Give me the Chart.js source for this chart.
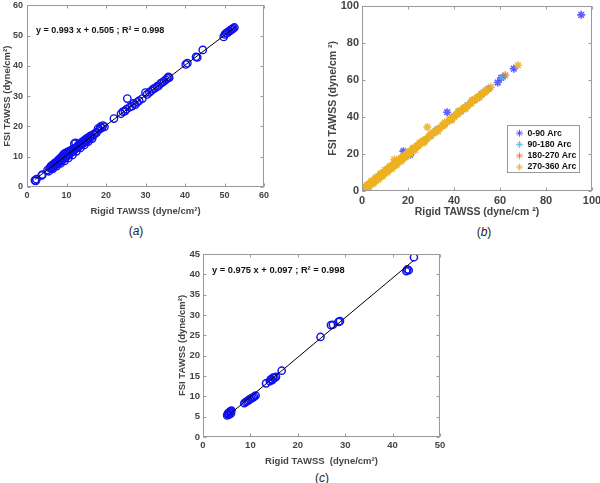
<!DOCTYPE html>
<html><head><meta charset="utf-8">
<script src="https://cdn.jsdelivr.net/npm/chart.js@4.4.0/dist/chart.umd.min.js"></script>
<style>
html,body{margin:0;padding:0;background:#fff;width:600px;height:483px;overflow:hidden;position:relative;}
canvas{position:absolute;}
.cap{position:absolute;font-family:"Liberation Sans",Arial,sans-serif;font-size:12px;color:#222;transform:translateX(-50%);line-height:12px;white-space:nowrap;}
</style></head><body>
<canvas id="ca" width="300" height="222" style="left:0;top:0"></canvas>
<canvas id="cb" width="300" height="222" style="left:300px;top:0"></canvas>
<canvas id="cc" width="320" height="230" style="left:140px;top:240px"></canvas>
<div class="cap" style="left:136px;top:225px">(<i>a</i>)</div>
<div class="cap" style="left:484px;top:226px">(<i>b</i>)</div>
<div class="cap" style="left:322px;top:472px">(<i>c</i>)</div>
<script>
// ---------- DATA ----------
// Panel (a): [Rigid TAWSS, FSI TAWSS]
const panelA = [[2.0,2.2],[2.2,2.0],[2.4,2.6],[3.7,3.8],[3.9,4.1],[5.2,5.6],[5.5,5.2],[5.8,6.2],[6.0,6.8],[6.2,6.3],
[6.4,7.2],[6.6,6.7],[6.8,7.6],[7.0,7.2],[7.1,8.0],[7.3,7.4],[7.5,8.3],[7.6,7.6],[7.8,8.7],[8.0,8.1],
[8.1,9.1],[8.3,8.2],[8.4,9.5],[8.6,8.6],[8.8,9.9],[8.9,9.0],[9.0,10.3],[9.1,9.4],[9.2,10.6],[9.3,9.2],
[9.4,10.9],[9.5,9.8],[9.6,11.0],[9.7,10.0],[9.8,11.2],[9.9,10.2],[10.0,11.3],[10.1,10.4],[10.2,11.5],[10.3,10.3],
[10.4,11.6],[10.5,10.7],[10.7,11.8],[10.8,11.0],[11.0,12.0],[11.1,11.3],[11.3,12.2],[11.5,11.7],[11.6,12.5],[11.8,12.0],
[12.0,14.3],[12.1,12.4],[12.3,14.6],[12.4,13.0],[12.6,13.0],[12.8,13.5],[13.0,13.2],[13.1,14.0],[13.3,13.6],[13.5,14.3],
[13.7,14.0],[13.9,14.8],[14.0,14.3],[14.2,15.1],[14.4,14.6],[14.6,15.5],[14.8,15.0],[15.0,15.9],[15.2,15.4],[15.4,16.2],
[15.6,15.8],[15.8,16.6],[16.0,16.3],[16.2,17.0],[16.5,16.8],[16.8,17.3],[17.0,17.4],[17.3,17.8],[17.6,18.0],[18.0,19.3],
[18.3,19.0],[18.6,19.9],[18.9,19.5],[19.2,20.3],[19.6,19.9],[22.0,22.6],[23.8,24.2],[24.3,24.9],[24.8,25.1],[25.2,25.7],
[25.4,29.2],[26.0,26.4],[26.6,26.7],[27.0,27.6],[27.4,27.2],[27.9,28.0],[28.4,28.5],[29.2,29.2],[30.0,31.2],[30.4,30.6],
[31.0,31.3],[31.5,31.8],[32.0,32.4],[32.4,32.7],[32.9,33.2],[33.3,33.4],[33.8,34.2],[34.2,34.5],[34.7,35.0],[35.1,35.4],
[35.5,35.9],[35.8,36.4],[36.0,36.1],[40.2,40.5],[40.6,40.9],[42.8,43.0],[43.1,42.8],[44.5,45.3],[49.8,49.6],[50.1,50.4],
[50.4,50.8],[50.7,50.9],[51.0,51.3],[51.3,51.5],[51.6,51.9],[51.9,52.1],[52.2,52.4],[52.5,52.7],
[6.5,6.0],[7.5,6.9],[8.5,7.8],[9.5,8.6],[10.5,9.6],[11.5,10.6],[12.5,11.8],[13.5,12.9],[14.5,13.9],[15.5,15.0],[16.5,16.0]];
const fitA = {slope:0.993, intercept:0.505, xFrom:2, xTo:53};

// Panel (b): four arc sectors
const arcLabels = ['0-90 Arc','90-180 Arc','180-270 Arc','270-360 Arc'];
const arc0_90 = [[2,2.2],[4,4.1],[6,6.3],[8,8.1],[10,10.2],[12,12.3],[14,14.1],[16,16.2],[18,21.5],[21,19.5],[24,24.3],
[27,27.1],[30,30.2],[33,33.4],[37,42.5],[40,40.2],[43,43.1],[46,46.3],[49,49.2],[52,52.2],[55,55.1],[59,58.5],[60.5,61],[66,66],[95.3,95]];
const arc90_180 = [[3,3.2],[7,7.1],[11,11.3],[15,15.2],[19,19.1],[23,23.3],[28,28.1],[32,32.3],[36,36.2],[42,43],[45,45.2],[50,50.1],[54,54.3],[61.2,61.5]];
const arc180_270 = [[5,5.1],[9,9.3],[13,13.1],[17,17.2],[22,22.1],[26,26.2],[31,31.1],[35,35.3],[39,39.2],[44,44.1],[48,49],[53,53.2],[62.3,62.5]];
const arc270_360 = [[1,1.2],[1.5,1.8],[2,2.1],[2.5,2.9],[3,3.1],[3.5,3.8],[4,4.2],[4.5,4.9],[5,5.1],[5.5,5.9],[6,6.2],[6.5,6.9],
[7,7.1],[7.5,7.8],[8,8.3],[8.5,8.7],[9,9.4],[9.5,9.6],[10,10.3],[10.5,10.8],[11,11.2],[11.5,11.9],[12,12.1],[12.5,12.8],
[13,13.4],[13.5,13.6],[14,17.0],[14.5,14.9],[15,15.2],[15.5,15.8],[16,16.3],[16.5,16.6],[17,17.4],[17.5,17.8],[18,18.1],
[18.5,18.9],[19,19.2],[19.5,19.7],[20,20.4],[21,21.2],[22,22.3],[23,23.1],[24,24.2],[25,25.1],[26,26.3],[27,27.2],[28,28.1],
[28.4,34.5],[29,29.3],[30,30.2],[31,31.1],[32,32.3],[33,33.2],[34,34.1],[35,35.3],[36,36.2],[37,37.1],[38,38.3],[39,39.2],
[40,40.1],[41,41.3],[42,42.2],[43,43.1],[44,44.2],[45,45.3],[46,46.1],[47,47.2],[48,48.3],[49,49.1],[50,50.3],[51,51.2],
[52,52.1],[53,53.3],[54,54.2],[56,56.0],[67.8,67.8],
[1.2,1.0],[2.2,2.5],[3.2,3.0],[4.2,4.5],[5.2,5.0],[6.2,6.6],[7.2,7.0],[8.2,8.6],[9.2,9.0],[10.2,10.6],[11.2,11.0],[12.2,12.7],
[13.2,13.0],[14.2,14.6],[15.2,15.0],[16.2,16.7],[17.2,17.0],[18.2,18.6],[20.5,20.5],[22.5,22.8],[24.5,24.4],[26.5,26.9],
[29.5,29.4],[32.5,32.8],[35.5,35.4],[38.5,38.7],[41.5,41.4],[44.5,44.8],[47.5,47.4],[50.5,50.7],[53.5,53.4],
[2,3.2],[3,2.0],[4,5.3],[5,4.0],[6,7.4],[7,6.0],[8,9.4],[9,8.0],[10,11.4],[11,10.0],[12,13.3],[13,12.0],[14,15.2],[15,14.0],
[16,17.2],[17,16.0],[18,19.1],[19,18.1],[20,21.1],[21,20.1],[22,23.0],[23,22.1],[25,26.0],[27,26.1],[30,31.0],[33,32.2],
[36,36.9],[39,38.3],[42,42.9],[45,44.4],[48,48.8],[51,50.4]];

// Panel (c)
const panelC = [[5.1,5.3],[5.2,5.6],[5.3,5.9],[5.5,5.5],[5.6,6.1],[5.8,6.3],[6.0,6.5],[5.9,5.8],
[8.7,8.3],[9.0,8.6],[9.3,8.8],[9.6,9.0],[9.9,9.3],[10.2,9.5],[10.5,9.7],[10.8,9.9],[11.1,10.2],
[13.3,13.2],[14.1,13.7],[14.3,14.2],[14.6,14.0],[14.8,14.6],[15.1,14.5],[15.4,14.8],[16.6,16.3],
[24.8,24.6],[27.0,27.5],[27.4,27.6],[28.6,28.3],[28.9,28.5],
[42.9,40.8],[43.1,41.2],[43.4,41.0],[44.5,44.2]];
const fitC = {slope:0.975, intercept:0.097, xFrom:5, xTo:44.5};

// ---------- RENDERING ----------
Chart.defaults.font.family = '"Liberation Sans", Arial, sans-serif';
Chart.defaults.font.weight = 'bold';
const toXY = arr => arr.map(p => ({x:p[0], y:p[1]}));
const fitLine = f => [f.xFrom, f.xTo].map(x => ({x, y: f.slope*x + f.intercept}));
const fmtEq = f => 'y = ' + f.slope.toFixed(3) + ' x + ' + f.intercept.toFixed(3) + ' ; R\u00B2 = 0.998';

const deco = {
  id: 'deco',
  afterDatasetsDraw(chart, args, o) {
    const {ctx, chartArea: a, scales} = chart;
    const xs = scales.x, ys = scales.y;
    ctx.save();
    ctx.strokeStyle = '#9a9a9a'; ctx.lineWidth = 1;
    const l = Math.round(a.left)+0.5, t = Math.round(a.top)+0.5, r = Math.round(a.right)-0.5, b = Math.round(a.bottom)-0.5;
    ctx.strokeRect(l, t, r-l, b-t);
    ctx.beginPath();
    const T = 3;
    xs.ticks.forEach(tk => { const p = Math.round(xs.getPixelForValue(tk.value))+0.5; ctx.moveTo(p,b); ctx.lineTo(p,b-T); ctx.moveTo(p,t); ctx.lineTo(p,t+T); });
    ys.ticks.forEach(tk => { const p = Math.round(ys.getPixelForValue(tk.value))+0.5; ctx.moveTo(l,p); ctx.lineTo(l+T,p); ctx.moveTo(r,p); ctx.lineTo(r-T,p); });
    ctx.stroke();
    if (o.eq) {
      ctx.fillStyle = '#111'; ctx.font = o.eqFont; ctx.textBaseline = 'middle'; ctx.textAlign = 'left';
      ctx.fillText(o.eq, a.left + o.eqDx, a.top + o.eqDy);
    }
    if (o.legend) {
      const L = o.legend;
      const bx = Math.round(a.right - L.right - L.w)+0.5, by = Math.round(a.bottom - L.bottom - L.h)+0.5;
      ctx.fillStyle = '#fff'; ctx.fillRect(bx, by, L.w, L.h);
      ctx.strokeStyle = '#9a9a9a'; ctx.lineWidth = 1; ctx.strokeRect(bx, by, L.w, L.h);
      ctx.font = L.font; ctx.textBaseline = 'middle'; ctx.textAlign = 'left';
      chart.data.datasets.forEach((ds, i) => {
        const yy = by + L.row0 + i*L.step;
        ctx.strokeStyle = ds.borderColor; ctx.lineWidth = 1;
        Chart.helpers.drawPoint(ctx, {pointStyle:'star', rotation:0, radius:3.5, borderWidth:1}, bx + L.mx, yy);
        ctx.fillStyle = '#111';
        ctx.fillText(ds.label, bx + L.tx, yy);
      });
    }
    ctx.restore();
  }
};

function axes(opt) {
  const tickFont = {size: opt.tick, weight:'bold'};
  const titleFont = {size: opt.title, weight:'bold'};
  return {
    x: {type:'linear', min:0, max:opt.xmax,
        ticks:{stepSize:opt.xstep, color:'#444', font:tickFont, padding:opt.xpad, maxRotation:0},
        grid:{display:false, drawTicks:false}, border:{display:false},
        title:{display:true, text:opt.xtitle, color:'#444', font:titleFont, padding:0},
        afterFit: s => { s.height = opt.xh; s.paddingLeft = 0; s.paddingRight = 0; }},
    y: {type:'linear', min:0, max:opt.ymax,
        ticks:{stepSize:opt.ystep, color:'#444', font:tickFont, padding:opt.ypad},
        grid:{display:false, drawTicks:false}, border:{display:false},
        title:{display:true, text:opt.ytitle, color:'#444', font:titleFont, padding:0},
        afterFit: s => { s.width = opt.yw; s.paddingTop = 0; s.paddingBottom = 0; }}
  };
}
const base = (pad, scales, deco) => ({
  responsive:false, animation:false, devicePixelRatio:1,
  layout:{padding:pad},
  scales,
  plugins:{legend:{display:false}, tooltip:{enabled:false}, deco}
});

// Panel (a)
new Chart(document.getElementById('ca'), {
  type:'scatter',
  data:{datasets:[
    {data:toXY(panelA), pointStyle:'circle', pointRadius:3.7, borderColor:'#1010f0', backgroundColor:'rgba(0,0,0,0)', borderWidth:1.4, order:1},
    {type:'line', data:fitLine(fitA), borderColor:'#000', borderWidth:1, pointRadius:0, showLine:true, order:0}
  ]},
  options: base({left:2, right:36, top:4, bottom:5},
    axes({xmax:60, xstep:10, ymax:60, ystep:10, tick:9, title:9.5, xpad:3, ypad:4, xh:30, yw:25,
          xtitle:'Rigid TAWSS (dyne/cm\u00B2)', ytitle:'FSI TAWSS (dyne/cm\u00B2)'}),
    {eq: fmtEq(fitA), eqFont:'bold 9px "Liberation Sans", Arial, sans-serif', eqDx:9, eqDy:25}),
  plugins:[deco]
});

// Panel (b)
const arcSets = [arc0_90, arc90_180, arc180_270, arc270_360];
const arcColors = ['rgba(40,40,255,0.75)', 'rgba(77,190,238,0.85)', 'rgba(217,83,25,0.6)', 'rgba(237,177,32,0.9)'];
new Chart(document.getElementById('cb'), {
  type:'scatter',
  data:{datasets: arcSets.map((s, i) => ({
    label: arcLabels[i], data: toXY(s), pointStyle:'star', pointRadius:4, borderWidth:1.6,
    borderColor: arcColors[i], backgroundColor: arcColors[i], order: 3 - i
  }))},
  options: base({left:27, right:8, top:4, bottom:4},
    axes({xmax:100, xstep:20, ymax:100, ystep:20, tick:11, title:10.5, xpad:3, ypad:3, xh:27, yw:35,
          xtitle:'Rigid TAWSS (dyne/cm \u00B2)', ytitle:'FSI TAWSS (dyne/cm \u00B2)'}),
    {legend:{right:13, bottom:19, w:72, h:47, row0:7.7, step:11.3, mx:12, tx:20, font:'bold 8.7px "Liberation Sans", Arial, sans-serif'}}),
  plugins:[deco]
});

// Panel (c)
new Chart(document.getElementById('cc'), {
  type:'scatter',
  data:{datasets:[
    {data:toXY(panelC), pointStyle:'circle', pointRadius:3.6, borderColor:'#1010f0', backgroundColor:'rgba(0,0,0,0)', borderWidth:1.5, order:1},
    {type:'line', data:fitLine(fitC), borderColor:'#000', borderWidth:1, pointRadius:0, showLine:true, order:0}
  ]},
  options: base({left:37, right:20, top:14, bottom:3},
    axes({xmax:50, xstep:10, ymax:45, ystep:5, tick:9.5, title:9.5, xpad:3, ypad:3, xh:30, yw:26,
          xtitle:'Rigid TAWSS  (dyne/cm\u00B2)', ytitle:'FSI TAWSS (dyne/cm\u00B2)'}),
    {eq: fmtEq(fitC), eqFont:'bold 9.3px "Liberation Sans", Arial, sans-serif', eqDx:9, eqDy:16}),
  plugins:[deco]
});
</script>
</body></html>
